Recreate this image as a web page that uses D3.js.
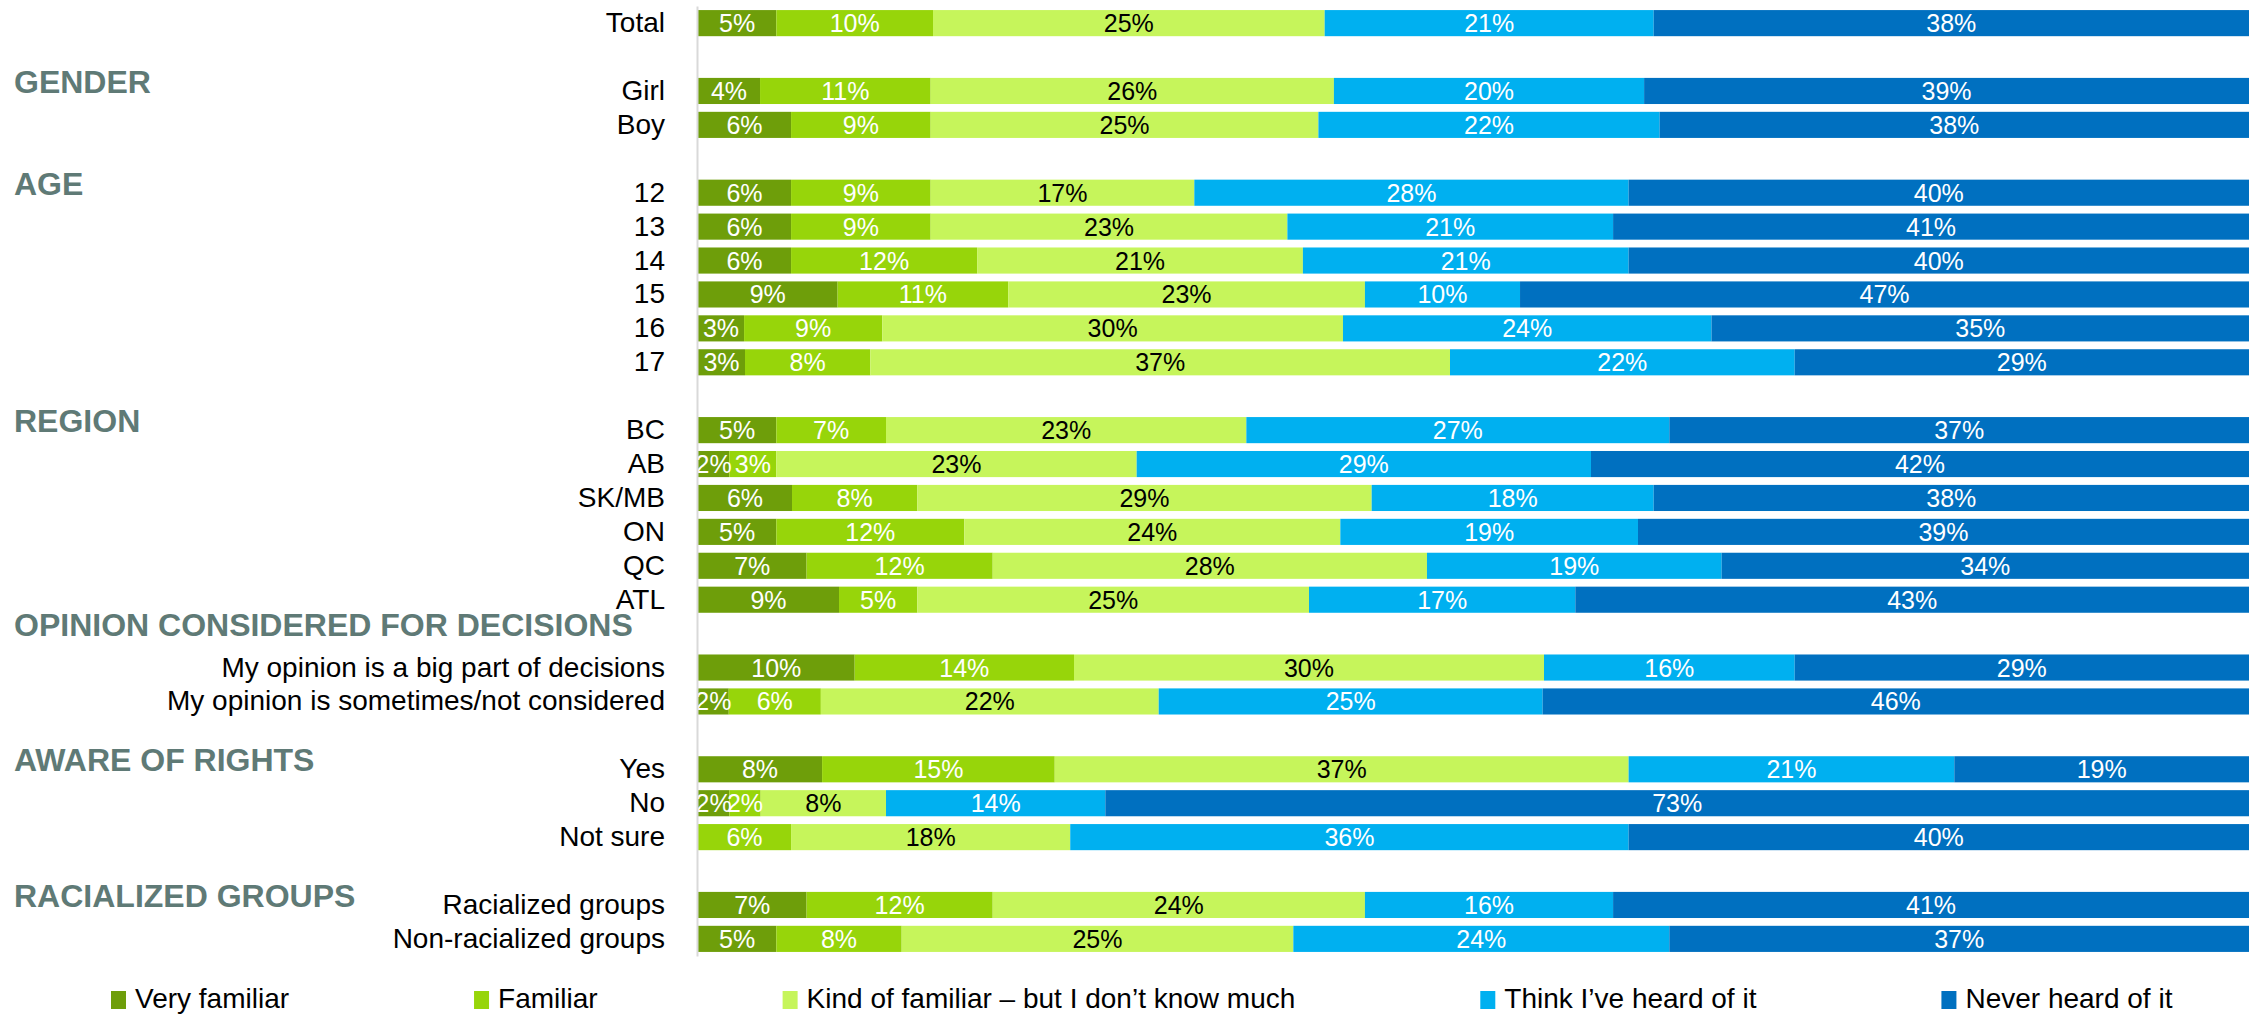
<!DOCTYPE html>
<html>
<head>
<meta charset="utf-8">
<script src="https://cdn.jsdelivr.net/npm/d3@7"></script>
<style>
  html, body { margin: 0; padding: 0; background: #fff; }
  text { font-family: "Liberation Sans", Arial, sans-serif; }
</style>
</head>
<body>
<div id="chart"></div>
<script>
const w = 2259,
      h = 1015;

// rows of the chart, top to bottom
const categories = ["Total", "Girl", "Boy", "12", "13", "14", "15", "16", "17",
  "BC", "AB", "SK/MB", "ON", "QC", "ATL",
  "My opinion is a big part of decisions", "My opinion is sometimes/not considered",
  "Yes", "No", "Not sure", "Racialized groups", "Non-racialized groups"];

const groupHeaders = ["", "GENDER", "AGE", "REGION", "OPINION CONSIDERED FOR DECISIONS", "AWARE OF RIGHTS", "RACIALIZED GROUPS"];
const groupSizes = [1, 2, 6, 6, 2, 3, 2];

const seriesNames = ["Very familiar", "Familiar", "Kind of familiar \u2013 but I don\u2019t know much", "Think I\u2019ve heard of it", "Never heard of it"];
const seriesKeys = ["veryFamiliar", "familiar", "kindOf", "thinkHeard", "neverHeard"];
const colors = ["#6E9E0A", "#97D50A", "#C6F55B", "#00B0F0", "#0070C0"];
const labelColors = ["#fff", "#fff", "#000", "#fff", "#fff"];

const veryFamiliar = [5, 4, 6, 6, 6, 6, 9, 3, 3, 5, 2, 6, 5, 7, 9, 10, 2, 8, 2, 0, 7, 5];
const familiar     = [10, 11, 9, 9, 9, 12, 11, 9, 8, 7, 3, 8, 12, 12, 5, 14, 6, 15, 2, 6, 12, 8];
const kindOf       = [25, 26, 25, 17, 23, 21, 23, 30, 37, 23, 23, 29, 24, 28, 25, 30, 22, 37, 8, 18, 24, 25];
const thinkHeard   = [21, 20, 22, 28, 21, 21, 10, 24, 22, 27, 29, 18, 19, 19, 17, 16, 25, 21, 14, 36, 16, 24];
const neverHeard   = [38, 39, 38, 40, 41, 40, 47, 35, 29, 37, 42, 38, 39, 34, 43, 29, 46, 19, 73, 40, 41, 37];

const valueArrays = [veryFamiliar, familiar, kindOf, thinkHeard, neverHeard];

const dataset = categories.map((c, i) => {
    let row = {category: c};
    seriesKeys.forEach((k, j) => row[k] = valueArrays[j][i]);
    return row;
});

// band domain with an empty spacer row between groups
let rowKeys = [];
let headerRows = [];
let idx = 0;
groupSizes.forEach((n, g) => {
    if (g > 0) rowKeys.push("spacer" + g);
    headerRows.push({text: groupHeaders[g], first: categories[idx], spacer: "spacer" + g});
    for (let k = 0; k < n; k++) {
        rowKeys.push(categories[idx]);
        idx++;
    }
});

const svg = d3.select("#chart")
    .append("svg")
    .attr("width", w)
    .attr("height", h);

const axisX = 697;

const xScale = d3.scaleLinear()
    .domain([0, 1])
    .range([axisX + 1, 2249]);

const yScale = d3.scaleBand()
    .domain(rowKeys)
    .range([6, 956])
    .paddingInner(0.23)
    .paddingOuter(0.12);

const stack = d3.stack()
    .keys(seriesKeys)
    .offset(d3.stackOffsetExpand);

const series = stack(dataset);

const layers = svg.selectAll("g.layer")
    .data(series)
    .enter()
    .append("g")
    .attr("class", "layer")
    .attr("fill", (d, i) => colors[i]);

layers.selectAll("rect")
    .data(d => d)
    .enter()
    .append("rect")
    .attr("x", d => xScale(d[0]))
    .attr("y", d => yScale(d.data.category))
    .attr("width", d => xScale(d[1]) - xScale(d[0]))
    .attr("height", yScale.bandwidth());

// value labels
series.forEach((s, i) => {
    svg.append("g")
        .selectAll("text")
        .data(s.filter(d => d.data[s.key] > 0))
        .enter()
        .append("text")
        .attr("x", d => (xScale(d[0]) + xScale(d[1])) / 2)
        .attr("y", d => yScale(d.data.category) + yScale.bandwidth() / 2)
        .attr("dy", "0.36em")
        .attr("text-anchor", "middle")
        .style("font-size", "25px")
        .style("fill", labelColors[i])
        .text(d => d.data[s.key] + "%");
});

// category axis
const yAxis = d3.axisLeft(yScale)
    .tickSize(0)
    .tickPadding(32)
    .tickFormat(k => k.startsWith("spacer") ? "" : k);

const yAxisGroup = svg.append("g")
    .attr("class", "y-axis")
    .attr("transform", "translate(" + axisX + ",0)")
    .call(yAxis);

yAxisGroup.select(".domain")
    .attr("stroke", "#d9d9d9")
    .attr("stroke-width", 2);

yAxisGroup.selectAll(".tick text")
    .style("font-size", "28px")
    .style("font-family", "'Liberation Sans', Arial, sans-serif")
    .style("fill", "#000");

// group headers, moved up to the spacer row when they would run into the labels
const headerG = svg.append("g");
headerRows.filter(d => d.text !== "").forEach(d => {
    let t = headerG.append("text")
        .attr("x", 14)
        .style("font-size", "32px")
        .style("font-weight", "bold")
        .style("fill", "#5F7A76")
        .text(d.text);
    let labelWidth = 0;
    yAxisGroup.selectAll(".tick")
        .filter(k => k === d.first)
        .select("text")
        .each(function() { labelWidth = this.getComputedTextLength(); });
    let labelLeft = axisX - 32 - labelWidth;
    let row = (14 + t.node().getComputedTextLength() + 20 > labelLeft) ? d.spacer : d.first;
    t.attr("y", yScale(row) + yScale.bandwidth() / 2 + 2);
});

// legend
const legend = svg.append("g").attr("transform", "translate(0,1000)");
let lx = 111;
seriesNames.forEach((name, i) => {
    legend.append("rect")
        .attr("x", lx)
        .attr("y", -9)
        .attr("width", 15)
        .attr("height", 18)
        .attr("fill", colors[i]);
    let t = legend.append("text")
        .attr("x", lx + 24)
        .attr("y", 8)
        .style("font-size", "28px")
        .text(name);
    lx = lx + 24 + t.node().getComputedTextLength() + 185;
});
</script>
</body>
</html>
